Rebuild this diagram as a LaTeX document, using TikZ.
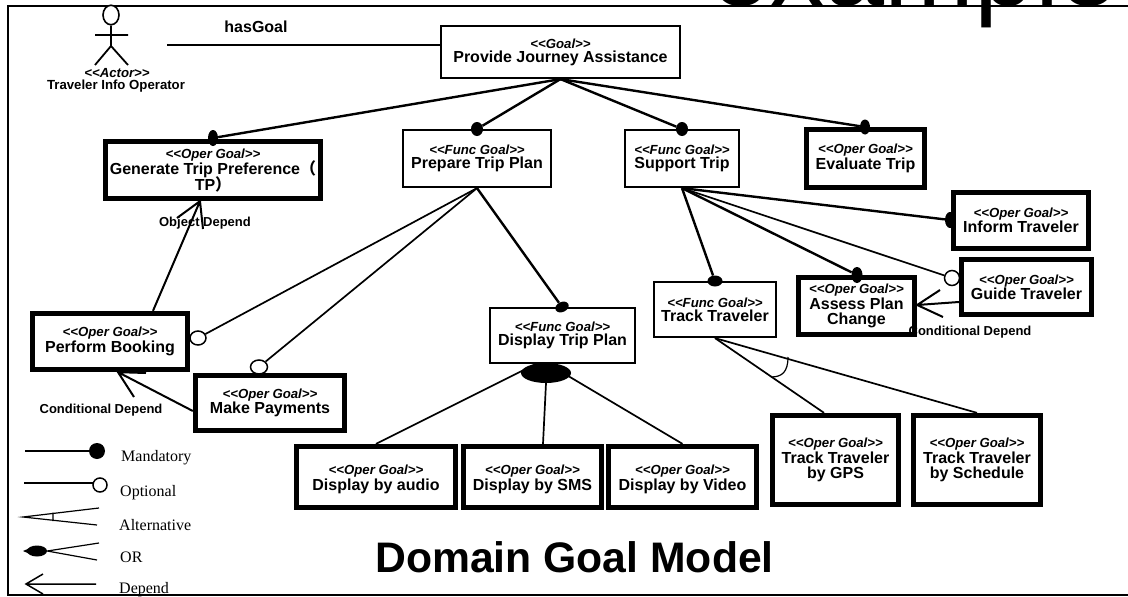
\documentclass[tikz,border=0pt]{standalone}
\usepackage{fontspec}
\setmainfont{Liberation Serif}
\newfontfamily\arf{Liberation Sans}
\newfontfamily\cjkf{Noto Sans CJK SC}
\usetikzlibrary{shapes.geometric,backgrounds}
\newcommand{\stereo}[1]{{\fontsize{13.2}{14}\selectfont\itshape #1}}
\tikzset{
  goaltext/.style={font=\arf\bfseries\fontsize{16}{14}\selectfont,align=center,inner sep=0pt},
  funcbox/.style={goaltext,draw,line width=1.7pt,rectangle},
  operbox/.style={goaltext,draw,line width=4.8pt,rectangle},
  dep/.style={line width=2pt},
  req/.style={line width=2.4pt},
  thinl/.style={line width=1.7pt},
  mand/.style={ellipse,fill=black,draw=none,inner sep=0pt},
  opt/.style={ellipse,fill=white,draw,line width=1.5pt,inner sep=0pt},
  small/.style={font=\arf\bfseries\fontsize{13}{14}\selectfont,inner sep=0pt,align=center},
  legend/.style={font=\fontsize{16}{16}\selectfont,inner sep=0pt,anchor=west},
}
\begin{document}
\begin{tikzpicture}[x=1pt,y=-1pt]
\useasboundingbox (0,0) rectangle (1128,597);
% frame and clipped heading
\draw[line width=1.3pt] (1130,6) -- (8,6) -- (8,595) -- (1130,595);
\node[font=\arf\fontsize{108}{108}\selectfont,anchor=base,inner sep=0pt] (ttl) at (915,5.5) {example};
% actor
\node[ellipse,draw,fill=white,line width=1.6pt,minimum width=16pt,minimum height=19.5pt,inner sep=0pt] (head) at (111,15) {};
\coordinate (hip) at (111,46);
\coordinate (arml) at (95,35);
\coordinate (armr) at (128,35);
\coordinate (legl) at (95,65);
\coordinate (legr) at (128,65);
\draw[line width=1.8pt] (head) -- (hip) -- (legl) (hip) -- (legr) (arml) -- (armr);
\node[small,font=\arf\bfseries\itshape\fontsize{13.2}{14}\selectfont] (actst) at (117,73) {<<Actor>>};
\node[small,font=\arf\bfseries\fontsize{13.2}{14}\selectfont] (actn) at (116,86) {Traveler Info Operator};
\node[goaltext] (hgl) at (256,27) {hasGoal};
\coordinate (hg) at (167,45);
% goals
\node[funcbox,minimum width=239.5pt,minimum height=52.5pt] (prov) at (560.5,52) {\stereo{<<Goal>>}\\Provide Journey Assistance};
\node[operbox,minimum width=215.5pt,minimum height=57.5pt] (gen) at (213,170) {\stereo{<<Oper Goal>>}\\Generate Trip Preference\smash{\cjkf （}\\[1pt]TP\smash{\cjkf ）}};
\node[funcbox,minimum width=148.5pt,minimum height=57.5pt] (prep) at (477,158.5) {\stereo{<<Func Goal>>}\\Prepare Trip Plan};
\node[funcbox,minimum width=114.5pt,minimum height=57.5pt] (sup) at (682,158.5) {\stereo{<<Func Goal>>}\\Support Trip};
\node[operbox,minimum width=118.5pt,minimum height=58.5pt] (eval) at (865.5,158.5) {\stereo{<<Oper Goal>>}\\Evaluate Trip};
\node[operbox,minimum width=135.5pt,minimum height=56.5pt] (inf) at (1021,220.5) {\stereo{<<Oper Goal>>}\\Inform Traveler};
\node[operbox,minimum width=130.5pt,minimum height=55.5pt] (guide) at (1026.5,287) {\stereo{<<Oper Goal>>}\\Guide Traveler};
\node[operbox,minimum width=116.5pt,minimum height=57.5pt] (assess) at (856.5,306) {\stereo{<<Oper Goal>>}\\Assess Plan\\[1pt]Change};
\node[funcbox,minimum width=122.5pt,minimum height=55.5pt] (track) at (715,309.5) {\stereo{<<Func Goal>>}\\Track Traveler};
\node[funcbox,minimum width=145.5pt,minimum height=55.5pt] (disp) at (562.5,335.5) {\stereo{<<Func Goal>>}\\Display Trip Plan};
\node[operbox,minimum width=155.5pt,minimum height=56.5pt] (perf) at (110,341.5) {\stereo{<<Oper Goal>>}\\Perform Booking};
\node[operbox,minimum width=149.5pt,minimum height=55.5pt] (make) at (270,403) {\stereo{<<Oper Goal>>}\\Make Payments};
\node[operbox,minimum width=159.5pt,minimum height=61.5pt] (audio) at (376,477) {\rule{0pt}{14pt}\stereo{<<Oper Goal>>}\\Display by audio};
\node[operbox,minimum width=138.5pt,minimum height=61.5pt] (sms) at (532.5,477) {\rule{0pt}{14pt}\stereo{<<Oper Goal>>}\\Display by SMS};
\node[operbox,minimum width=148.5pt,minimum height=61.5pt] (video) at (682.5,477) {\rule{0pt}{14pt}\stereo{<<Oper Goal>>}\\Display by Video};
\node[operbox,minimum width=126.5pt,minimum height=89.5pt] (gps) at (835.5,460) {\stereo{<<Oper Goal>>}\\Track Traveler\\[1pt]by GPS};
\node[operbox,minimum width=127.5pt,minimum height=89.5pt] (sched) at (977,460) {\stereo{<<Oper Goal>>}\\Track Traveler\\[1pt]by Schedule};
% link ends
\node[mand,minimum width=10pt,minimum height=16pt] (dgen) at (213,138) {};
\node[mand,minimum width=12pt,minimum height=14pt] (dprep) at (477,129) {};
\node[mand,minimum width=12pt,minimum height=14pt] (dsup) at (682,129) {};
\node[mand,minimum width=10pt,minimum height=15pt] (deval) at (865,127) {};
\node[mand,minimum width=10pt,minimum height=16pt] (dinf) at (950,220) {};
\node[mand,minimum width=11pt,minimum height=16pt] (dass) at (857,275) {};
\node[mand,minimum width=15pt,minimum height=11pt] (dtrack) at (715,281) {};
\node[mand,minimum width=14pt,minimum height=10pt,rotate=25] (ddisp) at (562,307) {};
\node[opt,minimum width=15pt,minimum height=15pt] (oguide) at (952,278) {};
\node[opt,minimum width=16pt,minimum height=14pt] (operf) at (198,338) {};
\node[opt,minimum width=17pt,minimum height=14pt] (omake) at (259,367) {};
\node[mand,minimum width=50pt,minimum height=20pt] (orn) at (546,373) {};
% connectors
\begin{scope}[on background layer]
\draw[thinl] (hg) -- ([yshift=7pt]prov.west);
\draw[req] (prov.south) -- (dgen);
\draw[req] (prov.south) -- (dprep);
\draw[req] (prov.south) -- (dsup);
\draw[req] (prov.south) -- (deval);
\draw[thinl] (prep.south) -- (operf);
\draw[thinl] (prep.south) -- (omake);
\draw[req] (prep.south) -- (ddisp);
\draw[req] (sup.south) -- (dtrack);
\draw[req] (sup.south) -- (dass);
\draw[req] (sup.south) -- (dinf);
\draw[thinl] (sup.south) -- (oguide);
\draw[thinl] ([xshift=-27pt]disp.south) -- (audio.north);
\draw[thinl] (orn.south) -- ([xshift=10.5pt]sms.north);
\draw[thinl] (orn.north) -- (video.north);
\draw[thinl] (track.south) -- ([xshift=-11.5pt]gps.north);
\draw[thinl] (track.south) -- (sched.north);
\coordinate (alta) at (788,357);
\coordinate (altb) at (771,377);
\draw[line width=1.2pt] (alta) .. controls (788,372) and (782,377) .. (altb);
\end{scope}
% dependency arrows with open heads
\coordinate (g1) at ([xshift=-13pt]gen.south);
\coordinate (g2) at (177,218);
\coordinate (g3) at (203,229);
\draw[dep] ([xshift=43pt]perf.north) -- (g1) (g2) -- (g1) -- (g3);
\coordinate (p1) at ([xshift=8pt]perf.south);
\coordinate (p2) at (134,397);
\coordinate (p3) at (146,373);
\draw[dep] ([yshift=-8pt]make.west) -- (p1) (p2) -- (p1) -- (p3);
\coordinate (a1x) at ([yshift=1pt]assess.east);
\coordinate (a2x) at (940,290);
\coordinate (a3x) at (943,317);
\draw[dep] ([yshift=-15pt]guide.west) -- (a1x) (a2x) -- (a1x) -- (a3x);
\node[small] (lobj) at (205,223) {Object Depend};
\node[small] (lc1) at (101,410) {Conditional Depend};
\node[small] (lc2) at (970,332) {Conditional Depend};
\node[font=\arf\bfseries\fontsize{42.7}{43}\selectfont,inner sep=0pt,anchor=base] (dgm) at (574.5,572) {Domain Goal Model};
% legend
\coordinate (m0) at (25,451);
\node[mand,minimum width=16pt,minimum height=16pt] (m1) at (97,451) {};
\draw[thinl] (m0) -- (m1);
\node[legend] (lm) at (121,458) {Mandatory};
\coordinate (p0) at (24,483);
\node[opt,minimum width=14pt,minimum height=14pt] (q1) at (100,485) {};
\coordinate (q2) at (93,483);
\draw[thinl] (p0) -- (q2);
\node[legend] (lp) at (120,493) {Optional};
\coordinate (a0) at (23,517);
\coordinate (a1) at (99,508);
\coordinate (a2) at (97,525);
\coordinate (a3) at (53,512.5);
\coordinate (a4) at (53,521);
\draw[line width=1.2pt] (a1) -- (a0) -- (a2) (a3) -- (a4);
\node[legend] (la) at (119,525) {Alternative};
\node[mand,minimum width=20pt,minimum height=11pt] (o0) at (37,551) {};
\coordinate (o3) at (23,551);
\coordinate (o4) at (30,548);
\coordinate (o5) at (30,554);
\coordinate (o1) at (99,543);
\coordinate (o2) at (97,560);
\fill (o3) -- (o4) -- (o5) -- cycle;
\draw[line width=1.2pt] (o1) -- (o0.east) -- (o2);
\node[legend] (lo) at (120,557) {OR};
\coordinate (d0) at (96,584);
\coordinate (d1) at (26,584);
\coordinate (d2) at (43,574);
\coordinate (d3) at (43,594);
\draw[line width=1.5pt] (d0) -- (d1) (d2) -- (d1) -- (d3);
\node[legend] (ld) at (119,590) {Depend};
\end{tikzpicture}
\end{document}
